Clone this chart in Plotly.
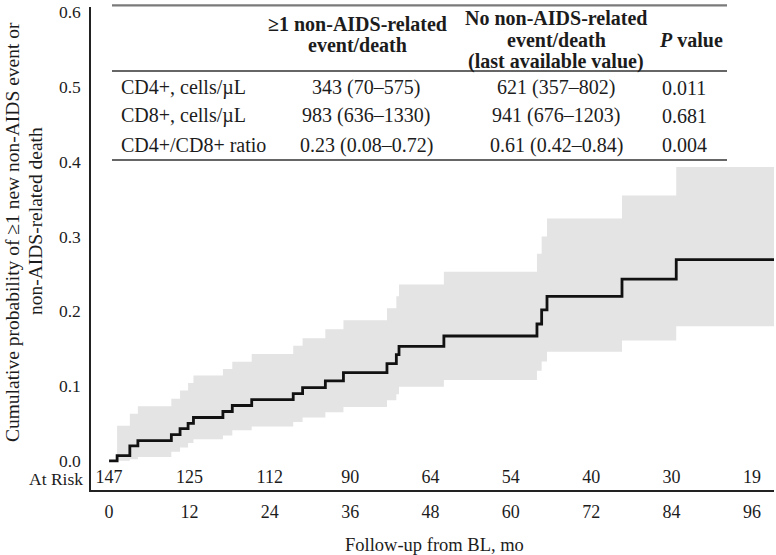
import plotly.graph_objects as go

# ---------------- data ----------------
event_times = [0, 1.2, 3.1, 4.3, 9.3, 10.6, 11.8, 12.6, 17.0, 18.4, 21.3, 27.5, 28.9,
               32.3, 35.0, 41.5, 42.9, 43.3, 50.0, 63.9, 64.6, 65.4, 76.6, 84.7]
cum_inc = [0, 0.007, 0.020, 0.027, 0.035, 0.043, 0.050, 0.058, 0.066, 0.074, 0.082, 0.090,
           0.098, 0.107, 0.118, 0.130, 0.142, 0.153, 0.167, 0.183, 0.202, 0.220, 0.243, 0.269]
ci_times = [1.2, 3.1, 4.3, 9.3, 10.6, 11.8, 12.6, 17.0, 18.4, 21.3, 27.5, 28.9,
            32.3, 35.0, 41.5, 42.9, 43.3, 50.0, 63.9, 64.6, 65.4, 76.6, 84.7]
ci_upper = [0.047, 0.063, 0.073, 0.083, 0.094, 0.104, 0.114, 0.123, 0.1325, 0.143, 0.154,
            0.164, 0.176, 0.188, 0.204, 0.220, 0.236, 0.253, 0.277, 0.300, 0.324, 0.355, 0.393]
ci_lower = [0.0, 0.002, 0.005, 0.012, 0.018, 0.024, 0.029, 0.034, 0.041, 0.046, 0.052,
            0.058, 0.065, 0.072, 0.081, 0.089, 0.099, 0.108, 0.1205, 0.133, 0.146, 0.161, 0.180]
last_followup = 99.3

at_risk_times = [0, 12, 24, 36, 48, 60, 72, 84, 96]
at_risk_counts = [147, 125, 112, 90, 64, 54, 40, 30, 19]

x_ticks = [0, 12, 24, 36, 48, 60, 72, 84, 96]
y_ticks = [0.0, 0.1, 0.2, 0.3, 0.4, 0.5, 0.6]

table_header_col1 = ["≥1 non-AIDS-related", "event/death"]
table_header_col2 = ["No non-AIDS-related", "event/death", "(last available value)"]
table_header_col3 = "<i>P</i> value"
table_rows = ["CD4+, cells/µL", "CD8+, cells/µL", "CD4+/CD8+ ratio"]
table_col1 = ["343 (70–575)", "983 (636–1330)", "0.23 (0.08–0.72)"]
table_col2 = ["621 (357–802)", "941 (676–1203)", "0.61 (0.42–0.84)"]
table_col3 = ["0.011", "0.681", "0.004"]

# ---------------- layout constants ----------------
W, H = 776, 555
ML, MR, MT, MB = 91, 2, 5, 65
PW, PH = W - ML - MR, H - MT - MB
FONT = "Liberation Serif, 'Times New Roman', serif"
TXT = "#1c1c1c"
AT_RISK_Y = -0.0237


def px(x):
    return (x - ML) / PW


def py(y):
    return (H - MB - y) / PH


fig = go.Figure()

fig.add_trace(go.Scatter(
    x=ci_times + [last_followup], y=ci_lower + [ci_lower[-1]],
    mode="lines", line=dict(width=0, shape="hv"),
    showlegend=False, hoverinfo="skip"))
fig.add_trace(go.Scatter(
    x=ci_times + [last_followup], y=ci_upper + [ci_upper[-1]],
    mode="lines", line=dict(width=0, shape="hv"),
    fill="tonexty", fillcolor="#e4e4e4",
    showlegend=False, hoverinfo="skip"))
fig.add_trace(go.Scatter(
    x=event_times + [last_followup], y=cum_inc + [cum_inc[-1]],
    mode="lines", line=dict(color="#111111", width=2.8, shape="hv"),
    showlegend=False))
fig.add_trace(go.Scatter(
    x=at_risk_times, y=[AT_RISK_Y] * len(at_risk_times),
    mode="text", text=[str(c) for c in at_risk_counts],
    textfont=dict(family=FONT, size=18, color=TXT),
    textposition="middle center", showlegend=False, hoverinfo="skip"))

ann = []


def add(text, x, y, size=20, xanchor="center", bold=False, angle=0):
    if bold:
        text = "<b>" + text + "</b>"
    ann.append(dict(text=text, x=px(x), y=py(y), xref="paper", yref="paper",
                    xanchor=xanchor, yanchor="middle", showarrow=False,
                    textangle=angle, font=dict(family=FONT, size=size, color=TXT)))


# table header
add(table_header_col1[0], 357, 22, bold=True)
add(table_header_col1[1], 357, 43, bold=True)
for i, t in enumerate(table_header_col2):
    add(t, 556, 16.5 + i * 21.8, bold=True)
add("<b>" + table_header_col3 + "</b>", 657, 38.5, xanchor="left")

row_y = [86, 114, 144]
for i in range(3):
    add(table_rows[i], 119, row_y[i], xanchor="left")
    add(table_col1[i], 366, row_y[i])
    add(table_col2[i], 556, row_y[i])
    add(table_col3[i], 660, row_y[i], xanchor="left")

# axis titles / labels
add("Cumulative probability of ≥1 new non-AIDS event or", 12.5, 231.5, size=19.5, angle=-90)
add("non-AIDS-related death", 35, 220, size=19.5, angle=-90)
add("Follow-up from BL, mo", 434, 545, size=18.5)
add("At Risk", 85, 479, size=17.5, xanchor="right")

shapes = [
    dict(type="line", xref="paper", yref="paper", x0=px(112), x1=px(727),
         y0=py(3.3), y1=py(3.3), line=dict(color="#7a7a7a", width=2.2)),
    dict(type="line", xref="paper", yref="paper", x0=px(112), x1=px(727),
         y0=py(69.3), y1=py(69.3), line=dict(color="#333333", width=1.4)),
    dict(type="line", xref="paper", yref="paper", x0=px(112), x1=px(727),
         y0=py(158.7), y1=py(158.7), line=dict(color="#333333", width=1.4)),
]

fig.update_layout(
    width=W, height=H,
    margin=dict(l=ML, r=MR, t=MT, b=MB, pad=0),
    paper_bgcolor="white", plot_bgcolor="white",
    font=dict(family=FONT, color=TXT),
    annotations=ann, shapes=shapes,
    xaxis=dict(range=[-2.7, 99.3], tickvals=x_ticks, ticktext=[str(v) for v in x_ticks],
               showline=True, linecolor="#222222", linewidth=1.5, mirror=False,
               showgrid=False, zeroline=False, ticks="", ticklabelstandoff=5,
               tickfont=dict(family=FONT, size=18, color=TXT), fixedrange=True),
    yaxis=dict(range=[-0.039, 0.607], tickvals=y_ticks, ticktext=[f"{v:.1f}" for v in y_ticks],
               showline=True, linecolor="#222222", linewidth=1.5,
               showgrid=False, zeroline=False, ticks="", ticklabelstandoff=5,
               tickfont=dict(family=FONT, size=17.5, color=TXT), fixedrange=True),
)

fig.write_html(
    "out.html",
    config={"displayModeBar": False},
    post_script="document.body.style.margin='0';document.body.style.overflow='hidden';",
)
